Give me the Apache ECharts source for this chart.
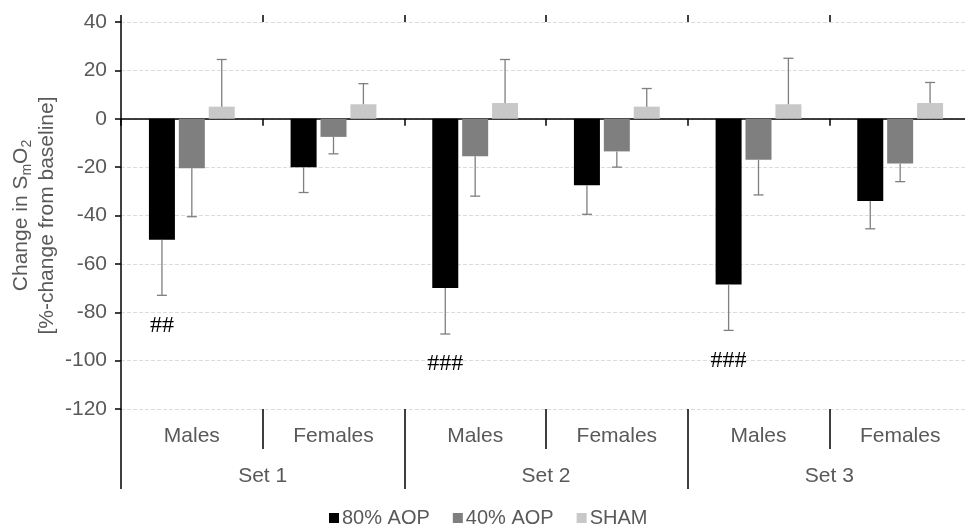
<!DOCTYPE html>
<html>
<head>
<meta charset="utf-8">
<script src="https://cdn.jsdelivr.net/npm/echarts@6/dist/echarts.min.js"></script>
<style>
html, body { margin: 0; padding: 0; background: #fff; }
#chart { width: 965px; height: 525px; }
</style>
</head>
<body>
<div id="chart"></div>
<script>
// categories
const groups = ['Males', 'Females', 'Males', 'Females', 'Males', 'Females'];
const sets = ['Set 1', 'Set 2', 'Set 3'];
const seriesNames = ['80% AOP', '40% AOP', 'SHAM'];

// mean change (%)
const aop80 = [-50, -20, -70, -27.5, -68.5, -34];
const aop40 = [-20.5, -7.5, -15.5, -13.5, -17, -18.5];
const sham = [5, 6, 6.5, 5, 6, 6.5];

// one-sided error bars (away from zero)
const aop80Err = [23, 10.5, 19, 12, 19, 11.5];
const aop40Err = [20, 7, 16.5, 6.5, 14.5, 7.5];
const shamErr = [19.5, 8.5, 18, 7.5, 19, 8.5];

// significance marks under the 80% AOP error bars
const aop80Marks = ['##', '', '###', '', '###', ''];

// y axis ticks
const yMin = -120, yMax = 40, yStep = 20;

const colors = ['#000000', '#7f7f7f', '#c8c8c8'];
const BAR_W = 26;
const BAR_GAP = 0.15;
const FONT = "'Liberation Sans', Arial, sans-serif";
const TXT = '#595959';

let myChart = echarts.init(document.getElementById('chart'));

function barSeries(name, data, color) {
    return {
        name: name,
        type: 'bar',
        xAxisIndex: 0,
        yAxisIndex: 0,
        barWidth: BAR_W,
        barGap: (BAR_GAP * 100) + '%',
        data: data,
        itemStyle: { color: color },
        z: 2
    };
}

function errSeries(name, values, errors, pos, marks) {
    return {
        name: name,
        type: 'custom',
        xAxisIndex: 0,
        yAxisIndex: 0,
        z: 3,
        silent: true,
        encode: { x: 0, y: 1 },
        data: values.map((v, i) => [i, v, errors[i]]),
        renderItem: function (params, api) {
            let i = api.value(0);
            let v = api.value(1);
            let e = api.value(2);
            let dir = v < 0 ? -1 : 1;
            let base = api.coord([i, v]);
            let end = api.coord([i, v + dir * e]);
            let x = base[0] + (pos - 1) * BAR_W * (1 + BAR_GAP);
            let style = { stroke: '#7f7f7f', lineWidth: 1.3 };
            let children = [
                { type: 'line', shape: { x1: x, y1: base[1], x2: x, y2: end[1] }, style: style },
                { type: 'line', shape: { x1: x - 5, y1: end[1], x2: x + 5, y2: end[1] }, style: style }
            ];
            let mark = marks ? marks[params.dataIndex] : '';
            if (mark) {
                children.push({
                    type: 'text',
                    style: {
                        x: x,
                        y: end[1] + 30,
                        text: mark,
                        fill: '#000',
                        font: "24px 'Liberation Serif', 'Times New Roman', serif",
                        align: 'center',
                        verticalAlign: 'middle'
                    }
                });
            }
            return { type: 'group', children: children };
        }
    };
}

let option = {
    animation: false,
    backgroundColor: '#fff',
    textStyle: { fontFamily: FONT },
    legend: {
        data: seriesNames,
        left: 324,
        top: 503,
        icon: 'rect',
        itemWidth: 10,
        itemHeight: 10,
        itemGap: 23,
        textStyle: { color: TXT, fontSize: 20, fontFamily: FONT, padding: [0, 0, 0, -2] }
    },
    grid: {
        left: 121,
        right: -6,
        top: 22,
        bottom: 116,
        containLabel: false,
        outerBoundsMode: 'none'
    },
    xAxis: [
        {
            // zero line with downward ticks
            type: 'category',
            data: groups,
            position: 'bottom',
            axisLine: { onZero: true, lineStyle: { color: '#000', width: 1.5 } },
            axisTick: { show: true, inside: false, length: 7, lineStyle: { color: '#000', width: 1.5 } },
            axisLabel: { show: false },
            splitLine: { show: false }
        },
        {
            // upward half of the crossing ticks
            type: 'category',
            data: groups,
            position: 'top',
            axisLine: { show: false, onZero: true },
            axisTick: { show: true, inside: false, length: 7, lineStyle: { color: '#000', width: 1.5 } },
            axisLabel: { show: false },
            splitLine: { show: false }
        },
        {
            // Males / Females labels
            type: 'category',
            data: groups,
            position: 'bottom',
            axisLine: { show: false, onZero: false },
            axisTick: { show: true, inside: false, length: 40, lineStyle: { color: '#000', width: 1.5 } },
            axisLabel: { color: TXT, fontSize: 21, fontFamily: FONT, margin: 17, interval: 0 },
            splitLine: { show: false }
        },
        {
            // Set labels
            type: 'category',
            data: sets,
            position: 'bottom',
            axisLine: { show: false, onZero: false },
            axisTick: { show: true, inside: false, length: 80, lineStyle: { color: '#000', width: 1.5 } },
            axisLabel: { color: TXT, fontSize: 21, fontFamily: FONT, margin: 57, interval: 0 },
            splitLine: { show: false }
        }
    ],
    yAxis: {
        type: 'value',
        min: yMin,
        max: yMax,
        interval: yStep,
        name: 'Change in S{sub|m}O{sub|2}\n[%-change from baseline]',
        nameLocation: 'middle',
        nameRotate: 90,
        nameGap: 61,
        nameMoveOverlap: false,
        nameTextStyle: {
            color: TXT,
            fontSize: 21,
            fontFamily: FONT,
            lineHeight: 26,
            align: 'center',
            rich: {
                sub: { fontSize: 14, lineHeight: 14, verticalAlign: 'bottom', color: TXT, fontFamily: FONT }
            }
        },
        axisLine: { show: true, lineStyle: { color: '#000', width: 1.5 } },
        axisTick: { show: true, inside: false, length: 6, lineStyle: { color: '#000', width: 1.5 } },
        axisLabel: { color: TXT, fontSize: 21, fontFamily: FONT, margin: 14 },
        splitLine: { show: true, lineStyle: { color: '#dcdcdc', type: 'dashed', width: 1 } }
    },
    series: [
        barSeries(seriesNames[0], aop80, colors[0]),
        barSeries(seriesNames[1], aop40, colors[1]),
        barSeries(seriesNames[2], sham, colors[2]),
        errSeries(seriesNames[0], aop80, aop80Err, 0, aop80Marks),
        errSeries(seriesNames[1], aop40, aop40Err, 1, null),
        errSeries(seriesNames[2], sham, shamErr, 2, null)
    ]
};

myChart.setOption(option);
window.addEventListener('resize', function () {
    myChart.resize();
});
</script>
</body>
</html>
